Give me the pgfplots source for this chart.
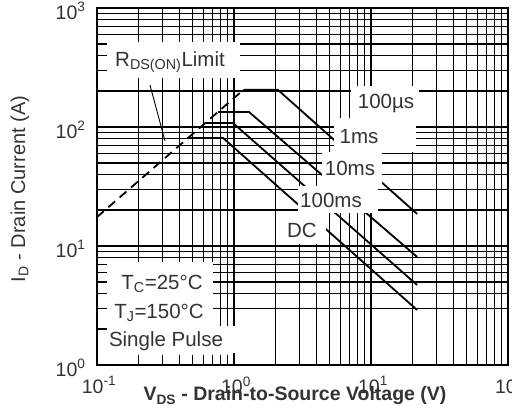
\documentclass[border=0pt]{standalone}
\usepackage{fontspec}
\setmainfont{Liberation Sans}
\usepackage{pgfplots}
\pgfplotsset{compat=1.18}
\definecolor{txt}{HTML}{333333}
\begin{document}
\begin{tikzpicture}[x=1pt,y=1pt,font=\fontsize{20.5}{24}\selectfont]
\begin{axis}[
  at={(97pt,47pt)}, anchor=south west, scale only axis,
  width=411pt, height=357pt,
  xmode=log, ymode=log, xmin=0.1, xmax=100, ymin=1, ymax=1000,
  xtick={0.1,1,10,100},
  xticklabels={10\textsuperscript{-1},10\textsuperscript{0},10\textsuperscript{1},10\textsuperscript{2}},
  ytick={1,10,100,1000},
  yticklabels={10\textsuperscript{0},10\textsuperscript{1},10\textsuperscript{2},10\textsuperscript{3}},
  minor xtick={0.2,0.3,0.4,0.5,0.6,0.7,0.8,0.9,2,3,4,5,6,7,8,9,20,30,40,50,60,70,80,90},
  minor ytick={3,4,5,6,7,8,9,20,50,60,70,80,90,400,500,600,700,800,900},
  extra y ticks={30,40,200,300},
  extra y tick labels={,,,},
  extra y tick style={grid style={gray!55, line width=1.6pt}},
  grid=both,
  major grid style={black, line width=1.4pt},
  minor grid style={black, line width=1.4pt},
  major tick length=0pt, minor tick length=0pt,
  axis line style={black, line width=1.5pt},
  ticklabel style={text=txt, font=\fontsize{19.5}{23}\selectfont},
  xticklabel style={yshift=-8pt, xshift=2pt},
  yticklabel style={xshift=-8pt, yshift=-3pt},
]
% R_DS(on) limit
\addplot[black, line width=1.8pt, dash pattern=on 9pt off 6pt] coordinates {(0.1,17.5) (1.171,205)};
% 100us
\addplot[black, line width=1.8pt] coordinates {(1.171,205) (2.094,205) (21.7,18.6)};
% 1ms
\addplot[black, line width=1.8pt] coordinates {(0.764,133.7) (1.287,133.7) (21.7,8.09)};
% 10ms
\addplot[black, line width=1.8pt] coordinates {(0.617,108) (0.983,108) (21.7,4.70)};
% 100ms / DC
\addplot[black, line width=1.8pt] coordinates {(0.462,80.9) (0.832,80.9) (21.7,2.90)};
\end{axis}
% white label areas
\fill[white] (100,334) rectangle (240,370);
\fill[white] (351,294) rectangle (419,326);
\fill[white] (334,260) rectangle (416,294);
\fill[white] (322,226) rectangle (382,260);
\fill[white] (298,199) rectangle (378,226);
\fill[white] (276,168) rectangle (326,199);
\fill[white] (99,49) rectangle (213,150);
\fill[white] (213,49) rectangle (270,86);
% tick stubs and frame on top
\begin{axis}[
  at={(97pt,47pt)}, anchor=south west, scale only axis,
  width=411pt, height=357pt,
  xmode=log, ymode=log, xmin=0.1, xmax=100, ymin=1, ymax=1000,
  xtick={0.1,1,10,100}, ytick={1,10,100,1000},
  minor xtick={0.2,0.3,0.4,0.5,0.6,0.7,0.8,0.9,2,3,4,5,6,7,8,9,20,30,40,50,60,70,80,90},
  minor ytick={2,3,4,5,6,7,8,9,20,30,40,50,60,70,80,90,200,300,400,500,600,700,800,900},
  xticklabels=\empty, yticklabels=\empty,
  xtick pos=bottom, ytick pos=left, tick align=inside,
  major tick length=12pt, minor tick length=10pt,
  tick style={black, line width=1.4pt},
  axis line style={black, line width=1.5pt},
]
\addplot[draw=none] coordinates {(1,1)};
\end{axis}
% annotations
\draw[black, line width=0.9pt] (150,327) -- (165,271);
\node[text=txt] at (170,350) {R\textsubscript{DS(ON)}Limit};
\node[text=txt] at (386,309) {100µs};
\node[text=txt] at (359,275) {1ms};
\node[text=txt] at (350,244) {10ms};
\node[text=txt] at (331,212) {100ms};
\node[text=txt] at (302,182) {DC};
\node[text=txt] at (162,128) {T\textsubscript{C}=25°C};
\node[text=txt] at (159,99) {T\textsubscript{J}=150°C};
\node[text=txt] at (166,71) {Single Pulse};
\node[text=txt, rotate=90, font=\fontsize{20}{24}\selectfont] at (20,223) {I\textsubscript{D} - Drain Current (A)};
\node[text=txt, font=\fontsize{19.5}{23}\selectfont\bfseries] at (295,16) {V\textsubscript{DS} - Drain-to-Source Voltage (V)};
\pgfresetboundingbox
\path (0,0) rectangle (512,412);
\end{tikzpicture}
\end{document}
